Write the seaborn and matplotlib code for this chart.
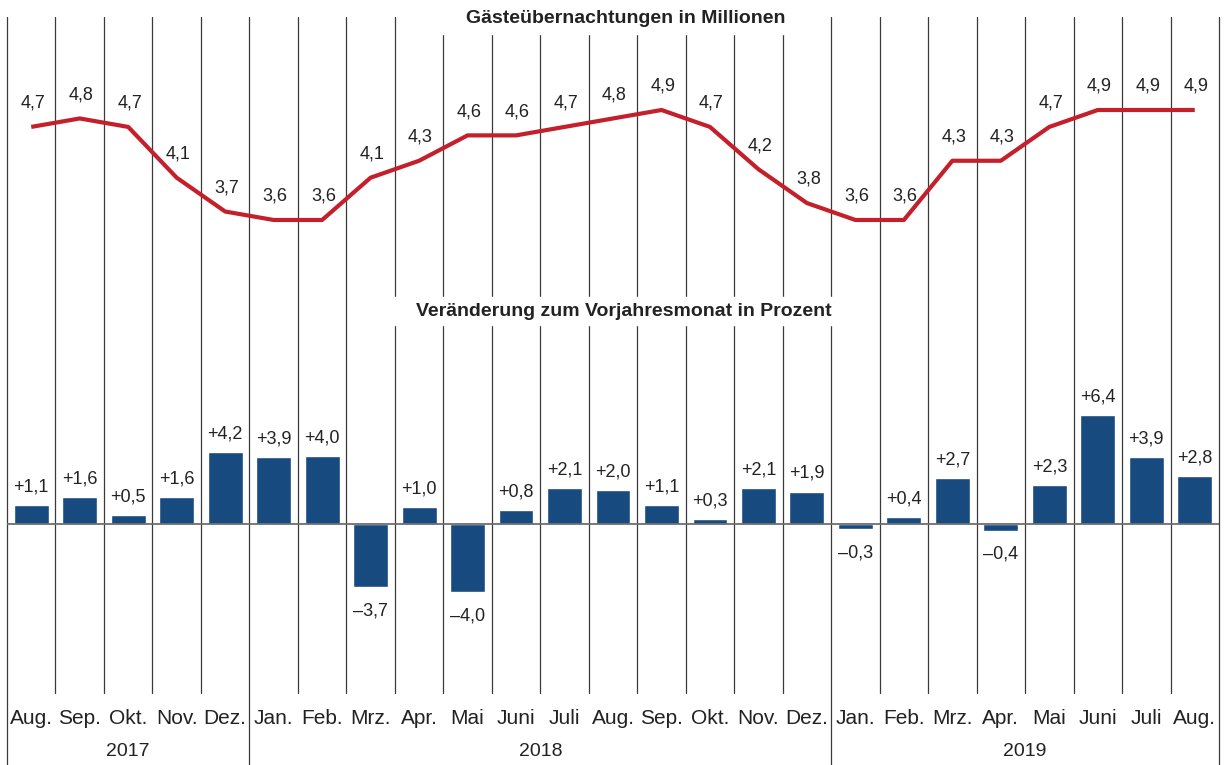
import matplotlib
matplotlib.use("Agg")
import matplotlib.pyplot as plt
import seaborn as sns
import numpy as np
from matplotlib.patches import Rectangle

# ------------------------------
# Data
# ------------------------------
months = ["Aug.", "Sep.", "Okt.", "Nov.", "Dez.",
          "Jan.", "Feb.", "Mrz.", "Apr.", "Mai", "Juni", "Juli",
          "Aug.", "Sep.", "Okt.", "Nov.", "Dez.",
          "Jan.", "Feb.", "Mrz.", "Apr.", "Mai", "Juni", "Juli", "Aug."]
years = ["2017", "2018", "2019"]
year_months = [5, 12, 8]

guests = [4.7, 4.8, 4.7, 4.1, 3.7, 3.6, 3.6, 4.1, 4.3, 4.6, 4.6, 4.7,
          4.8, 4.9, 4.7, 4.2, 3.8, 3.6, 3.6, 4.3, 4.3, 4.7, 4.9, 4.9, 4.9]
change = [1.1, 1.6, 0.5, 1.6, 4.2, 3.9, 4.0, -3.7, 1.0, -4.0, 0.8, 2.1,
          2.0, 1.1, 0.3, 2.1, 1.9, -0.3, 0.4, 2.7, -0.4, 2.3, 6.4, 3.9, 2.8]

title_top = "Gästeübernachtungen in Millionen"
title_mid = "Veränderung zum Vorjahresmonat in Prozent"

# ------------------------------
# Style / layout (pixel based)
# ------------------------------
sns.set_style("white")
plt.rcParams['font.family'] = ['Liberation Sans', 'DejaVu Sans']

W, H = 1224, 765
x_left, x_right = 7, 1219
n = len(months)
col = (x_right - x_left) / n
txt = "#222222"
red = "#c4202c"
blue = "#174a7e"
grid = "#3a3a3a"


def px2x(px):
    return (px - x_left) / col - 0.5


def fmt(v, sign=False):
    s = f"{v:+.1f}" if sign else f"{v:.1f}"
    return s.replace(".", ",").replace("-", "\u2013")


fig = plt.figure(figsize=(W / 100, H / 100), dpi=100)

# background axes in pixel units for the grid and labels
bg = fig.add_axes([0, 0, 1, 1])
bg.set_xlim(px2x(0), px2x(W))
bg.set_ylim(H, 0)
bg.axis("off")

year_bounds = np.cumsum([0] + year_months)
for k in range(n + 1):
    bottom = H if k in year_bounds else 693
    bg.plot([k - 0.5, k - 0.5], [17, bottom], color=grid, lw=0.9, zorder=1)

# white masks behind the titles
bg.add_patch(Rectangle((px2x(420), 0), px2x(810) - px2x(420), 34,
                       color="white", zorder=2))
bg.add_patch(Rectangle((px2x(385), 297), px2x(860) - px2x(385), 28,
                       color="white", zorder=2))
bg.text(px2x(626), 18, title_top, ha="center", va="center",
        fontsize=14, fontweight="bold", color=txt, zorder=3)
bg.text(px2x(624), 311, title_mid, ha="center", va="center",
        fontsize=14, fontweight="bold", color=txt, zorder=3)

for i, m in enumerate(months):
    bg.text(i, 718, m, ha="center", va="center", fontsize=15, color=txt)
start = 0
for y, cnt in zip(years, year_months):
    bg.text(start + (cnt - 1) / 2, 752, y, ha="center", va="center",
            fontsize=14, color=txt)
    start += cnt

# ------------------------------
# Top: line chart
# ------------------------------
top_px, bot_px = 17, 300
ppu = 84.6
ax1 = fig.add_axes([x_left / W, 1 - bot_px / H, (x_right - x_left) / W,
                    (bot_px - top_px) / H])
ax1.patch.set_alpha(0)
idx = np.arange(n)
sns.lineplot(x=idx, y=guests, ax=ax1, color=red, lw=3.0,
             solid_capstyle="butt", solid_joinstyle="round")
ax1.set_xlim(-0.5, n - 0.5)
ax1.set_ylim(4.9 - (bot_px - 110) / ppu, 4.9 + (110 - top_px) / ppu)
ax1.axis("off")
for i, v in enumerate(guests):
    ax1.annotate(fmt(v), (i, v), xytext=(1, 17), textcoords="offset points",
                 ha="center", va="center", fontsize=13, color=txt)

# ------------------------------
# Bottom: bar chart
# ------------------------------
top_px, bot_px, zero_px = 325, 693, 524
ppu = 17.1
ax2 = fig.add_axes([x_left / W, 1 - bot_px / H, (x_right - x_left) / W,
                    (bot_px - top_px) / H])
ax2.patch.set_alpha(0)
sns.barplot(x=idx, y=change, ax=ax2, color=blue, saturation=1, width=0.72)
ax2.axhline(0, color="#6e6e6e", lw=1.3, zorder=3)
ax2.set_xlim(-0.5, n - 0.5)
ax2.set_ylim(-(bot_px - zero_px) / ppu, (zero_px - top_px) / ppu)
ax2.axis("off")
for i, v in enumerate(change):
    off = 13 if v >= 0 else -17
    ax2.annotate(fmt(v, sign=v >= 0), (i, v), xytext=(0, off),
                 textcoords="offset points", ha="center", va="center",
                 fontsize=13, color=txt)

fig.savefig("out.png", dpi=100)
